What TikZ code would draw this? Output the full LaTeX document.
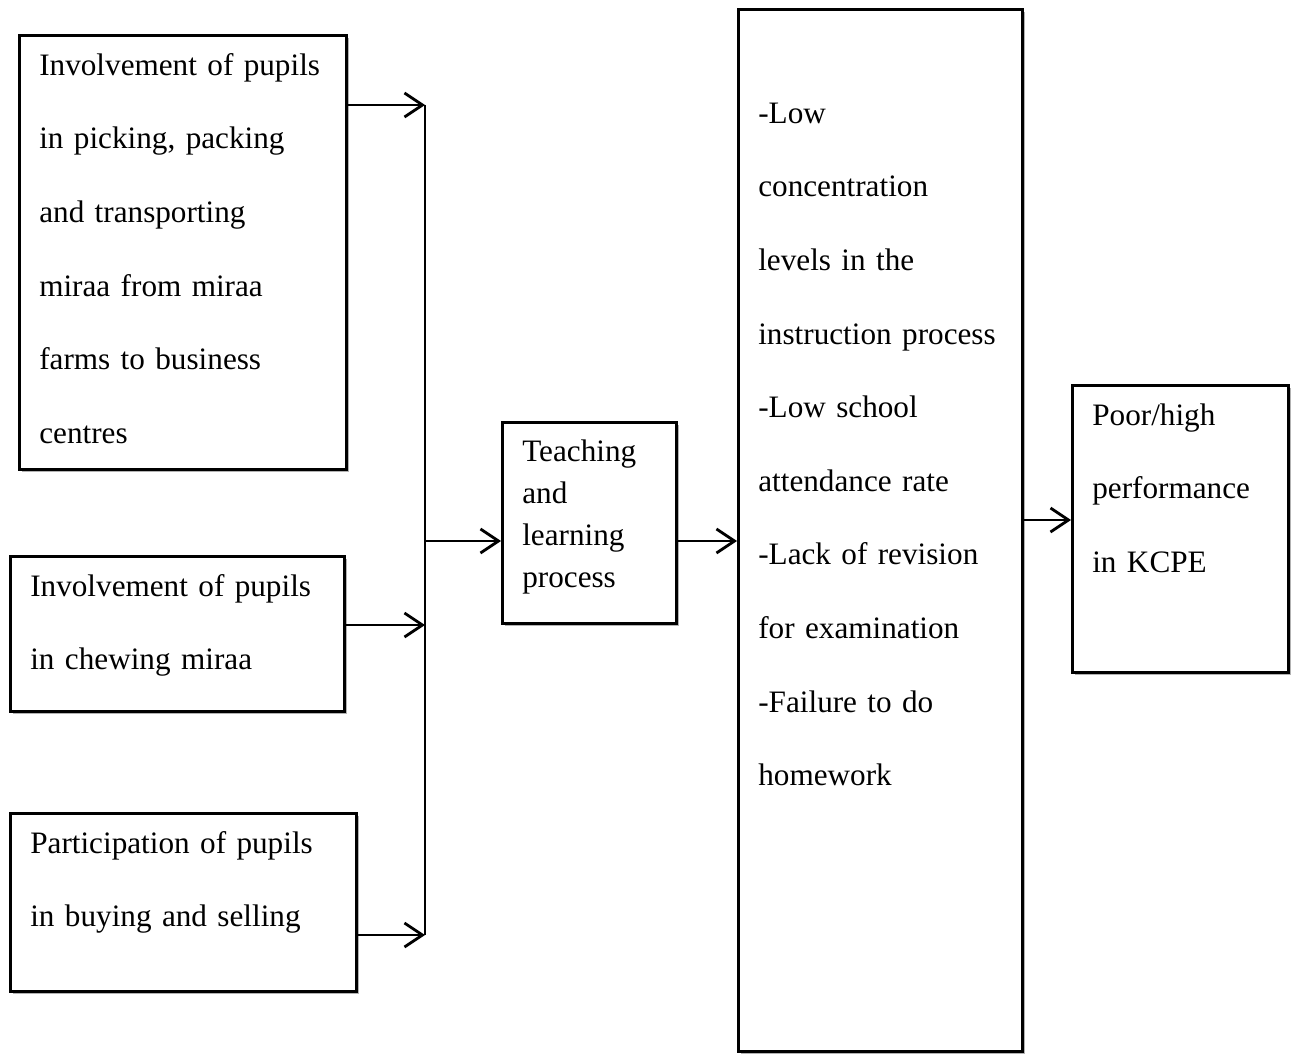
\documentclass[tikz,border=0pt]{standalone}
\usepackage{fontspec}
\setmainfont{Liberation Serif}
\usetikzlibrary{arrows.meta,shadows}

\begin{document}
\begin{tikzpicture}[x=0.5pt,y=-0.5pt]
\useasboundingbox (0,0) rectangle (1293,1053);

\begin{scope}[every node/.style={draw,line width=1.3pt,fill=white,anchor=north west,
  align=left,inner xsep=10pt,inner ysep=0pt,text height=20pt,
  font=\fontsize{15.6}{36.8}\selectfont,
  drop shadow={shadow xshift=1.5pt,shadow yshift=-1.5pt,fill=black,opacity=.3}}]
\node [text width=143.5pt, text depth=197pt] (farm) at (18,34)
  {Involvement of pupils\\in picking, packing\\and transporting\\miraa from miraa\\farms to business\\centres};
\node [text width=147pt, text depth=57.5pt] (chew) at (9,555)
  {Involvement of pupils\\in chewing miraa};
\node [text width=153pt, text depth=69pt] (trade) at (9,812)
  {Participation of pupils\\in buying and selling};
\node [text width=67pt, text height=19.5pt, text depth=81pt,
  font=\fontsize{15.6}{21}\selectfont] (teach) at (501,421)
  {Teaching\\and\\learning\\process};
\node [text width=122pt, text height=57pt, text depth=464pt] (effects) at (737,8)
  {-Low\\concentration\\levels in the\\instruction process\\-Low school\\attendance rate\\-Lack of revision\\for examination\\-Failure to do\\homework};
\node [text width=88pt, text depth=123.5pt] (kcpe) at (1071,384)
  {Poor/high\\performance\\in KCPE};
\end{scope}

\coordinate (bustop) at (425,105);
\coordinate (buschew) at (425,625);
\coordinate (busbot) at (425,935);
\coordinate (busmid) at (425,541);
\coordinate (kcpein) at (1071,520);

\begin{scope}[line width=1.4pt,>={Straight Barb[length=9pt,width=12pt]}]
\draw (bustop) -- (busbot);
\draw [->] (farm.east |- bustop) -- (bustop);
\draw [->] (chew.east |- buschew) -- (buschew);
\draw [->] (trade.east |- busbot) -- (busbot);
\draw [->] (busmid) -- (teach.west |- busmid);
\draw [->] (teach.east |- busmid) -- (effects.west |- busmid);
\draw [->] (effects.east |- kcpein) -- (kcpein);
\end{scope}
\end{tikzpicture}
\end{document}
